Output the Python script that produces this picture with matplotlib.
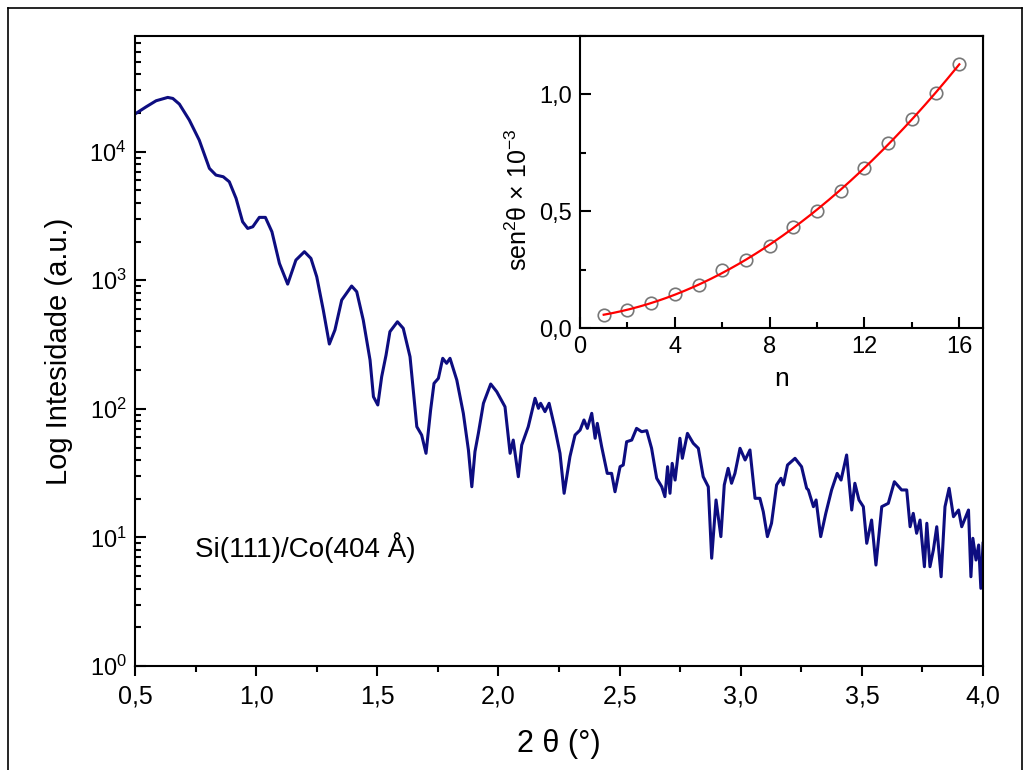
import numpy as np
import matplotlib.pyplot as plt
from matplotlib.ticker import LogLocator, MultipleLocator, FuncFormatter
from matplotlib.lines import Line2D

plt.rcParams['font.family'] = ['Liberation Sans', 'DejaVu Sans']
plt.rcParams['mathtext.fontset'] = 'custom'
plt.rcParams['mathtext.rm'] = 'Liberation Sans'
plt.rcParams['mathtext.it'] = 'Liberation Sans:italic'

# XRR curve: 2theta (deg) and log10 of intensity
two_theta = np.array([
    0.504, 0.546, 0.587, 0.635, 0.656, 0.683, 0.724, 0.765, 0.807, 0.834,
    0.864, 0.889, 0.917, 0.944, 0.965, 0.986, 1.013, 1.038, 1.065, 1.096,
    1.130, 1.164, 1.199, 1.226, 1.250, 1.277, 1.302, 1.325, 1.353, 1.394,
    1.415, 1.442, 1.470, 1.484, 1.502, 1.518, 1.536, 1.552, 1.583, 1.607,
    1.635, 1.663, 1.683, 1.701, 1.720, 1.734, 1.752, 1.770, 1.786, 1.800,
    1.828, 1.855, 1.876, 1.890, 1.903, 1.917, 1.938, 1.968, 1.993, 2.027,
    2.048, 2.061, 2.082, 2.096, 2.123, 2.151, 2.165, 2.174, 2.192, 2.209,
    2.233, 2.254, 2.271, 2.295, 2.316, 2.337, 2.353, 2.367, 2.385, 2.399,
    2.408, 2.426, 2.449, 2.467, 2.481, 2.502, 2.515, 2.529, 2.550, 2.570,
    2.591, 2.612, 2.632, 2.653, 2.674, 2.687, 2.698, 2.708, 2.717, 2.729,
    2.749, 2.759, 2.780, 2.804, 2.825, 2.845, 2.866, 2.880, 2.898, 2.918,
    2.932, 2.948, 2.962, 2.976, 2.997, 3.018, 3.038, 3.059, 3.079, 3.093,
    3.110, 3.127, 3.148, 3.166, 3.176, 3.193, 3.224, 3.251, 3.272, 3.279,
    3.300, 3.311, 3.330, 3.351, 3.375, 3.398, 3.414, 3.437, 3.458, 3.471,
    3.488, 3.506, 3.520, 3.540, 3.558, 3.582, 3.609, 3.634, 3.664, 3.685,
    3.699, 3.712, 3.726, 3.740, 3.758, 3.768, 3.781, 3.795, 3.809, 3.827,
    3.843, 3.860, 3.878, 3.899, 3.912, 3.929, 3.940, 3.950, 3.958, 3.971,
    3.982, 3.991, 4.000])
log_intensity = np.array([
    4.298, 4.349, 4.396, 4.422, 4.414, 4.370, 4.246, 4.090, 3.870, 3.818,
    3.805, 3.766, 3.637, 3.455, 3.403, 3.416, 3.489, 3.489, 3.377, 3.131,
    2.970, 3.157, 3.222, 3.170, 3.027, 2.768, 2.504, 2.613, 2.846, 2.955,
    2.911, 2.690, 2.379, 2.094, 2.030, 2.250, 2.418, 2.600, 2.677, 2.626,
    2.405, 1.861, 1.796, 1.654, 1.991, 2.198, 2.237, 2.393, 2.354, 2.393,
    2.224, 1.965, 1.680, 1.394, 1.667, 1.809, 2.043, 2.193, 2.133, 2.016,
    1.654, 1.757, 1.472, 1.718, 1.861, 2.082, 2.004, 2.043, 1.978, 2.043,
    1.848, 1.654, 1.343, 1.628, 1.796, 1.835, 1.913, 1.848, 1.965, 1.771,
    1.887, 1.705, 1.498, 1.498, 1.355, 1.550, 1.563, 1.744, 1.757, 1.848,
    1.822, 1.830, 1.693, 1.460, 1.394, 1.317, 1.550, 1.343, 1.576, 1.446,
    1.771, 1.615, 1.809, 1.732, 1.693, 1.472, 1.394, 0.838, 1.291, 1.006,
    1.408, 1.537, 1.421, 1.498, 1.693, 1.602, 1.680, 1.304, 1.304, 1.200,
    1.006, 1.110, 1.408, 1.460, 1.408, 1.563, 1.615, 1.550, 1.382, 1.369,
    1.239, 1.291, 1.006, 1.187, 1.369, 1.498, 1.446, 1.641, 1.213, 1.421,
    1.291, 1.239, 0.954, 1.135, 0.785, 1.239, 1.265, 1.433, 1.369, 1.369,
    1.083, 1.187, 1.032, 1.135, 0.772, 1.110, 0.772, 0.902, 1.083, 0.694,
    1.239, 1.382, 1.161, 1.213, 1.083, 1.161, 1.213, 0.694, 0.993, 0.824,
    0.941, 0.604, 0.954])

# inset: order of the fringe and sen^2(theta) x 10^-3
order_n = np.arange(1, 17)
sen2_theta = np.array([0.054, 0.076, 0.107, 0.146, 0.186, 0.247, 0.293, 0.350,
                       0.433, 0.500, 0.586, 0.683, 0.793, 0.896, 1.004, 1.131])

comma = FuncFormatter(lambda v, p: f"{v:.1f}".replace('.', ','))
narrow = ['Liberation Sans Narrow', 'Liberation Sans', 'DejaVu Sans']

fig = plt.figure(figsize=(10.3, 7.7), dpi=100)
ax = fig.add_axes([0.1311, 0.1351, 0.8233, 0.8182])
ax.plot(two_theta, 10 ** log_intensity, color='#0d0d80', lw=2.2)
ax.set_yscale('log')
ax.set_xlim(0.5, 4.0)
ax.set_ylim(1, 10 ** 4.9)
ax.xaxis.set_major_locator(MultipleLocator(0.5))
ax.xaxis.set_minor_locator(MultipleLocator(0.25))
ax.xaxis.set_major_formatter(comma)
ax.yaxis.set_major_locator(LogLocator(base=10, numticks=10))
ax.yaxis.set_minor_locator(LogLocator(base=10, subs=np.arange(2, 10), numticks=10))
ax.tick_params(axis='x', which='major', direction='out', length=7, width=1.5, labelsize=18, pad=6)
ax.tick_params(axis='x', which='minor', direction='out', length=4, width=1.5)
ax.tick_params(axis='y', which='major', direction='in', length=8, width=1.5, labelsize=17, pad=6)
ax.tick_params(axis='y', which='minor', direction='in', length=4, width=1.5)
for lab in ax.get_xticklabels():
    lab.set_family(narrow)
for s in ax.spines.values():
    s.set_linewidth(1.5)
ax.set_xlabel('2 θ (°)', fontsize=22, labelpad=15)
ax.set_ylabel('Log Intesidade (a.u.)', fontsize=21, labelpad=12)
ax.text(0.748, 7.0, 'Si(111)/Co(404 Å)', fontsize=20)

ins = fig.add_axes([0.5631, 0.5740, 0.3913, 0.3792])
ins.set_facecolor('white')
ins.plot(order_n, sen2_theta, 'o', ms=9, mfc='none', mec='#777777', mew=1.2)
coef = np.polyfit(order_n, sen2_theta, 2)
n_fit = np.linspace(order_n[0], order_n[-1], 200)
ins.plot(n_fit, np.polyval(coef, n_fit), color='red', lw=1.6)
ins.set_xlim(0, 17)
ins.set_ylim(0, 1.25)
ins.xaxis.set_major_locator(MultipleLocator(4))
ins.xaxis.set_minor_locator(MultipleLocator(2))
ins.yaxis.set_major_locator(MultipleLocator(0.5))
ins.yaxis.set_minor_locator(MultipleLocator(0.25))
ins.yaxis.set_major_formatter(comma)
ins.tick_params(which='major', direction='in', length=8, width=1.5, labelsize=17, pad=6)
ins.tick_params(which='minor', direction='in', length=4, width=1.5)
for s in ins.spines.values():
    s.set_linewidth(1.5)
ins.set_xlabel('n', fontsize=19, labelpad=6)
ins.set_ylabel('sen$^2$θ × 10$^{-3}$', fontsize=18)
ins.yaxis.set_label_coords(-0.12, 0.44)

# thin frame around the picture
for xs, ys in [([0.008, 0.008], [0, 0.99]), ([0.008, 0.992], [0.99, 0.99]),
               ([0.992, 0.992], [0, 0.99])]:
    fig.add_artist(Line2D(xs, ys, transform=fig.transFigure, color='black', lw=1.2))

fig.savefig('out.png', dpi=100)
